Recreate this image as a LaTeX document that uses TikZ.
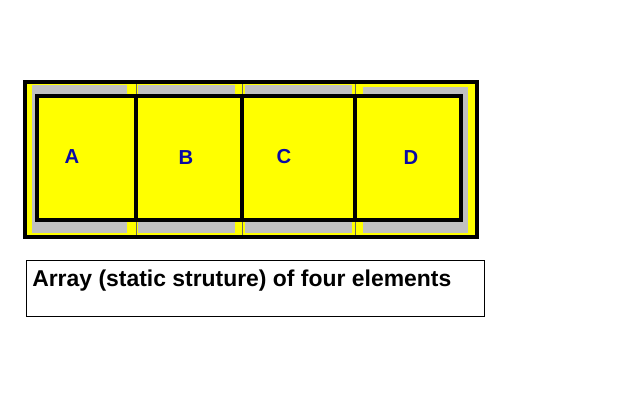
\documentclass[tikz,border=0pt]{standalone}
\usepackage{fontspec}
\setmainfont{Liberation Sans}
\usepackage{tikz}

\definecolor{cellyellow}{RGB}{255,255,0}
\definecolor{shadowgray}{RGB}{192,192,192}
\definecolor{letterblue}{RGB}{10,10,165}

\begin{document}
\begin{tikzpicture}[
    x=0.025cm, y=-0.025cm,
    frame/.style={draw=black, line width=2.8pt},
    shadow/.style={fill=shadowgray},
    divider/.style={draw=black!60, line width=0.6pt},
    cell/.style={draw=black, line width=2.2pt, fill=cellyellow},
    letter/.style={text=letterblue, font=\fontsize{14.4}{17}\selectfont\bfseries, inner sep=0pt},
    caption/.style={font=\fontsize{16.3}{19}\selectfont\bfseries, anchor=base west, inner sep=0pt},
    capbox/.style={draw=black, line width=0.7pt}
]
    \useasboundingbox (0,0) rectangle (640,402);
    % outer frame
    \fill[cellyellow] (25,82) rectangle (477,237);
    \fill[shadow] (32,85) rectangle (127,233);
    \fill[shadow] (138,85) rectangle (235,233);
    \fill[shadow] (245,85) rectangle (352,233);
    \fill[shadow] (363,87) rectangle (468,233);
    \foreach \xx in {136,242,355}
        \draw[divider] (\xx,83) -- (\xx,236);
    % the four elements
    \draw[cell] (37,96) rectangle (136,220);
    \draw[cell] (136,96) rectangle (242,220);
    \draw[cell] (242,96) rectangle (355,220);
    \draw[cell] (355,96) rectangle (461,220);
    \draw[frame] (25,82) rectangle (477,237);
    \node[letter] (A) at (72,157) {A};
    \node[letter] (B) at (186,158) {B};
    \node[letter] (C) at (284,157) {C};
    \node[letter] (D) at (411,158) {D};
    % caption
    \draw[capbox] (26,260) rectangle (484,316);
    \node[caption] (cap) at (32,286) {Array (static struture) of four elements};
\end{tikzpicture}
\end{document}
